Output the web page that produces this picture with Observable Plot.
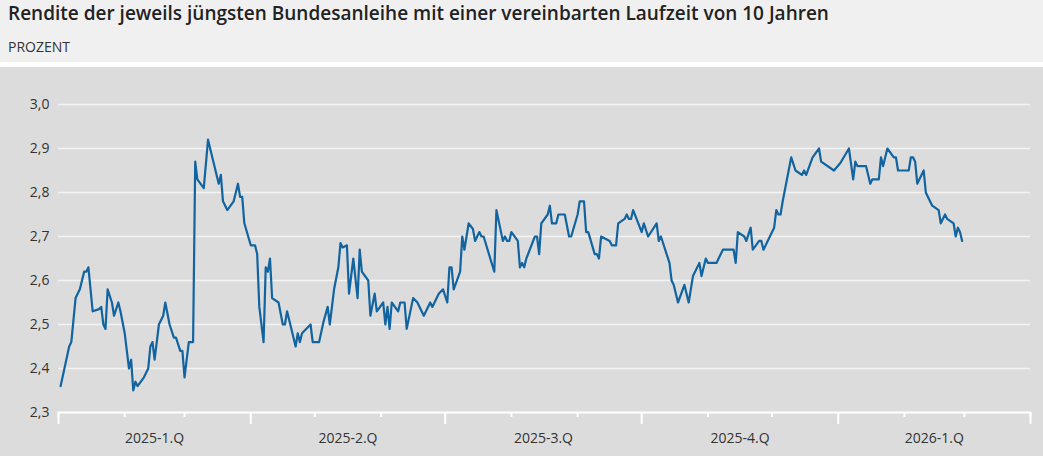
<!DOCTYPE html>
<html>
<head>
<meta charset="utf-8">
<script src="https://cdn.jsdelivr.net/npm/d3@7"></script>
<script src="https://cdn.jsdelivr.net/npm/@observablehq/plot@0.6"></script>
<style>
  html, body { margin: 0; padding: 0; background: #ffffff; }
  body { width: 1043px; height: 456px; overflow: hidden; font-family: "Open Sans", sans-serif; }
  #header { position: relative; height: 62px; background: #f0f0f0; }
  #title { position: absolute; left: 8px; top: -1px; font-size: 19px; font-weight: 600; color: #222; line-height: 28px; white-space: nowrap; }
  #subtitle { position: absolute; left: 8px; top: 37px; font-size: 14px; color: #333; line-height: 20px; }
  #chart { margin-top: 5px; height: 389px; }
  #chart svg { display: block; }
</style>
</head>
<body>
<div id="header">
  <div id="title">Rendite der jeweils jüngsten Bundesanleihe mit einer vereinbarten Laufzeit von 10 Jahren</div>
  <div id="subtitle">PROZENT</div>
</div>
<div id="chart"></div>
<script>
const dates = [
"2025-01-02","2025-01-06","2025-01-07","2025-01-09","2025-01-11","2025-01-13","2025-01-14","2025-01-15","2025-01-17","2025-01-20","2025-01-21","2025-01-22","2025-01-23","2025-01-24","2025-01-26","2025-01-27","2025-01-29","2025-01-30","2025-02-01",
"2025-02-03","2025-02-04","2025-02-05","2025-02-06","2025-02-07","2025-02-10","2025-02-12","2025-02-13","2025-02-14","2025-02-15","2025-02-17","2025-02-19","2025-02-20","2025-02-22","2025-02-24","2025-02-25","2025-02-27","2025-02-28",
"2025-03-01","2025-03-03","2025-03-05","2025-03-06","2025-03-07","2025-03-10","2025-03-12","2025-03-17","2025-03-18","2025-03-19","2025-03-21","2025-03-24","2025-03-26","2025-03-27","2025-03-28","2025-03-29",
"2025-04-01","2025-04-02","2025-04-03","2025-04-04","2025-04-05","2025-04-07","2025-04-08","2025-04-09","2025-04-10","2025-04-11","2025-04-14","2025-04-16","2025-04-17","2025-04-18","2025-04-22","2025-04-23","2025-04-24","2025-04-25","2025-04-29","2025-04-30",
"2025-05-03","2025-05-05","2025-05-07","2025-05-08","2025-05-10","2025-05-12","2025-05-13","2025-05-14","2025-05-16","2025-05-17","2025-05-19","2025-05-21","2025-05-22","2025-05-23","2025-05-26","2025-05-27","2025-05-29","2025-05-30",
"2025-06-02","2025-06-03","2025-06-04","2025-06-05","2025-06-06","2025-06-09","2025-06-10","2025-06-12","2025-06-13","2025-06-16","2025-06-18","2025-06-21","2025-06-24","2025-06-25","2025-06-28","2025-06-30",
"2025-07-02","2025-07-03","2025-07-04","2025-07-05","2025-07-08","2025-07-09","2025-07-10","2025-07-12","2025-07-14","2025-07-15","2025-07-17","2025-07-18","2025-07-19","2025-07-24","2025-07-25","2025-07-28","2025-07-29","2025-07-30","2025-07-31",
"2025-08-01","2025-08-04","2025-08-05","2025-08-06","2025-08-07","2025-08-08","2025-08-12","2025-08-13","2025-08-14","2025-08-15","2025-08-18","2025-08-19","2025-08-20","2025-08-22","2025-08-23","2025-08-26","2025-08-28","2025-08-29",
"2025-09-01","2025-09-02","2025-09-04","2025-09-05","2025-09-06","2025-09-09","2025-09-10","2025-09-11","2025-09-12","2025-09-16","2025-09-17","2025-09-19","2025-09-20","2025-09-23","2025-09-24","2025-09-25","2025-09-26","2025-09-27",
"2025-10-01","2025-10-02","2025-10-04","2025-10-08","2025-10-09","2025-10-10","2025-10-14","2025-10-15","2025-10-16","2025-10-18","2025-10-21","2025-10-23","2025-10-25","2025-10-28","2025-10-29","2025-10-31",
"2025-11-01","2025-11-05","2025-11-08","2025-11-13","2025-11-14","2025-11-15","2025-11-18","2025-11-19","2025-11-21","2025-11-22","2025-11-25","2025-11-26","2025-11-27",
"2025-12-02","2025-12-03","2025-12-04","2025-12-05","2025-12-06","2025-12-10","2025-12-12","2025-12-15","2025-12-16","2025-12-17","2025-12-20","2025-12-23","2025-12-24","2025-12-30",
"2026-01-02","2026-01-06","2026-01-08","2026-01-09","2026-01-10","2026-01-14","2026-01-16","2026-01-17","2026-01-20","2026-01-21","2026-01-22","2026-01-24","2026-01-27","2026-01-28","2026-01-29",
"2026-02-03","2026-02-04","2026-02-05","2026-02-06","2026-02-07","2026-02-10","2026-02-11","2026-02-12","2026-02-14","2026-02-17","2026-02-18","2026-02-20","2026-02-21","2026-02-24","2026-02-25","2026-02-26","2026-02-27","2026-02-28"
];

const yields = [
2.36,2.45,2.46,2.56,2.58,2.62,2.62,2.63,2.53,2.535,2.54,2.50,2.49,2.58,2.55,2.52,2.55,2.53,2.48,
2.40,2.42,2.35,2.37,2.36,2.38,2.40,2.45,2.46,2.42,2.50,2.52,2.55,2.50,2.47,2.47,2.44,2.44,
2.38,2.46,2.46,2.87,2.83,2.81,2.92,2.82,2.84,2.78,2.76,2.78,2.82,2.79,2.79,2.73,
2.68,2.68,2.68,2.66,2.54,2.46,2.63,2.62,2.65,2.56,2.55,2.50,2.50,2.53,2.45,2.48,2.46,2.48,2.50,2.46,
2.46,2.505,2.54,2.50,2.58,2.63,2.685,2.675,2.68,2.57,2.65,2.56,2.67,2.62,2.60,2.52,2.57,2.53,
2.55,2.50,2.54,2.49,2.55,2.53,2.55,2.55,2.49,2.56,2.55,2.52,2.55,2.54,2.57,2.58,
2.55,2.63,2.63,2.58,2.62,2.70,2.67,2.73,2.717,2.69,2.71,2.70,2.70,2.62,2.76,2.69,2.70,2.69,2.69,
2.71,2.69,2.63,2.64,2.63,2.65,2.70,2.70,2.66,2.73,2.75,2.77,2.73,2.73,2.75,2.75,2.70,2.70,
2.75,2.78,2.78,2.71,2.71,2.66,2.66,2.65,2.70,2.69,2.68,2.68,2.73,2.74,2.75,2.74,2.74,2.76,
2.71,2.73,2.70,2.73,2.69,2.70,2.64,2.60,2.59,2.55,2.59,2.55,2.61,2.64,2.61,2.65,
2.64,2.64,2.67,2.67,2.64,2.71,2.70,2.69,2.72,2.67,2.69,2.69,2.67,
2.72,2.76,2.75,2.75,2.78,2.88,2.85,2.84,2.85,2.84,2.88,2.90,2.87,2.85,
2.867,2.90,2.83,2.87,2.86,2.86,2.82,2.83,2.83,2.88,2.86,2.90,2.88,2.88,2.85,
2.85,2.88,2.88,2.87,2.82,2.85,2.80,2.79,2.77,2.76,2.73,2.75,2.74,2.73,2.70,2.72,2.71,2.69
];

const yTicks = [2.3, 2.4, 2.5, 2.6, 2.7, 2.8, 2.9, 3.0];
const quarterStarts = ["2025-01-01","2025-04-01","2025-07-01","2025-10-01","2026-01-01","2026-04-01"];
const quarterLabels = ["2025-1.Q","2025-2.Q","2025-3.Q","2025-4.Q","2026-1.Q"];

const data = dates.map((d, i) => ({date: new Date(d), value: yields[i]}));
const qStarts = quarterStarts.map(d => new Date(d));
const monthTicks = d3.utcMonth.range(qStarts[0], d3.utcDay.offset(qStarts[qStarts.length - 1], 1));
const qMids = quarterLabels.map((_, i) => new Date((+qStarts[i] + +qStarts[i + 1]) / 2));
const fmtY = d => d.toFixed(1).replace(".", ",");

const chart = Plot.plot({
  width: 1043,
  height: 389,
  marginLeft: 58,
  marginRight: 13,
  marginTop: 37,
  marginBottom: 44,
  style: {background: "#dcdcdc", fontFamily: "Open Sans, sans-serif", fontSize: "14px", color: "#333"},
  x: {type: "utc", domain: [qStarts[0], qStarts[qStarts.length - 1]]},
  y: {domain: [2.3, 3.0]},
  marks: [
    Plot.ruleY(yTicks.slice(1), {stroke: "#f3f3f3", strokeWidth: 1.5}),
    Plot.axisY(yTicks, {tickSize: 0, tickPadding: 9, tickFormat: fmtY, label: null, fill: "#333"}),
    Plot.ruleY([2.3], {stroke: "#ffffff", strokeWidth: 2}),
    Plot.axisX(monthTicks, {tickSize: 5, stroke: "#ffffff", strokeWidth: 2, strokeOpacity: 1, tickFormat: () => "", label: null}),
    Plot.axisX(qStarts, {tickSize: 12, stroke: "#ffffff", strokeWidth: 2, strokeOpacity: 1, tickFormat: () => "", label: null}),
    Plot.axisX(qMids, {tickSize: 0, tickPadding: 21, tickFormat: (d, i) => quarterLabels[i], label: null, fill: "#333"}),
    Plot.lineY(data, {x: "date", y: "value", stroke: "#1164a0", strokeWidth: 2.2})
  ]
});
document.getElementById("chart").appendChild(chart);
</script>
</body>
</html>
